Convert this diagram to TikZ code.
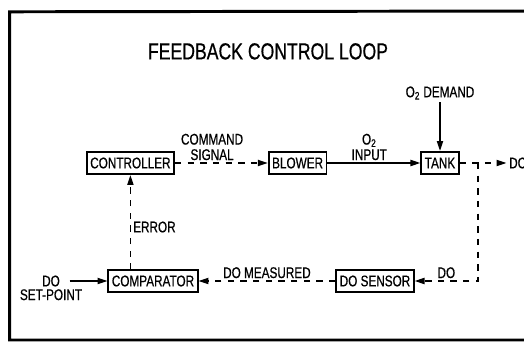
\documentclass[tikz,border=0pt]{standalone}
\usepackage{fontspec}
\setmainfont[FakeStretch=0.76,FakeBold=0.6]{Liberation Sans}
\newfontfamily\titlefont[FakeStretch=0.76,FakeBold=0.6]{Liberation Sans}
\usetikzlibrary{positioning,arrows.meta}

\begin{document}
\begin{tikzpicture}[
    >={Triangle[length=7pt,width=4.4pt]}, line width=1pt,
    % --- block style ---
    blk/.style={draw, line width=1.3pt, minimum height=0.56cm, inner xsep=2.5pt,
                inner ysep=1pt, font=\fontsize{11}{12}\selectfont},
    % --- signal styles ---
    arr/.style={->, line width=1pt},
    darr/.style={->, line width=1pt, dash pattern=on 4.5pt off 4.5pt},
    % --- label style ---
    lbl/.style={font=\fontsize{11}{11}\selectfont, inner sep=1.5pt, align=center},
]

%% page: 13.1 x 8.575 cm, frame runs off the right edge
\clip (0,0) rectangle (13.1,8.575);
\draw[line width=2.1pt] (13.6,8.30) -- (0.24,8.28) -- (0.24,0.075) -- (13.6,0.075);

%% ---- TITLE ----
\node[font=\titlefont\fontsize{16.5}{18}\selectfont] (title) at (6.70,7.29)
    {FEEDBACK CONTROL LOOP};

%% ---- FORWARD PATH (y = 4.50) ----
\node[blk] (ctrl)   at ( 3.26,4.50) {CONTROLLER};
\node[blk] (blower) at ( 7.44,4.50) {BLOWER};
\node[blk] (tank)   at (11.00,4.50) {TANK};
\node[lbl] (demand) at (11.00,6.25) {O\textsubscript{2} DEMAND};
\node[lbl, anchor=west] (doout) at (12.66,4.50) {DO};

%% ---- FEEDBACK PATH (y = 1.55) ----
\node[blk, minimum height=0.53cm] (cmp) at (3.825,1.55) {COMPARATOR};
\node[blk] (sensor) at (9.375,1.55) {DO SENSOR};
\node[lbl] (sp) at (1.275,1.55) {DO};
\node[lbl, below=-2pt of sp] (sp2) {SET-POINT};

%% tap-off point behind the tank
\coordinate (tap)    at (11.95,4.50);
\coordinate (corner) at (11.95,1.55);

%% ---- ARROWS ----
\draw[darr] (ctrl) -- node[lbl, above, pos=0.4] {COMMAND\\SIGNAL} (blower);
\draw[arr] (blower) -- node[lbl, above, pos=0.45] {O\textsubscript{2}\\INPUT} (tank);
\draw[arr] (demand) -- (tank);
\draw[darr] (tank) -- (doout);

%% measured DO back to the comparator
\draw[darr] (tap) -- (corner) -- node[lbl, above] {DO} (sensor);
\draw[darr] (sensor) -- node[lbl, above] {DO MEASURED} (cmp);
\draw[arr] ([xshift=5pt]sp.east) -- (cmp.west);
\draw[darr] (ctrl.south |- cmp.north) -- node[lbl, right, pos=0.45] {ERROR} (ctrl.south);

\end{tikzpicture}
\end{document}
